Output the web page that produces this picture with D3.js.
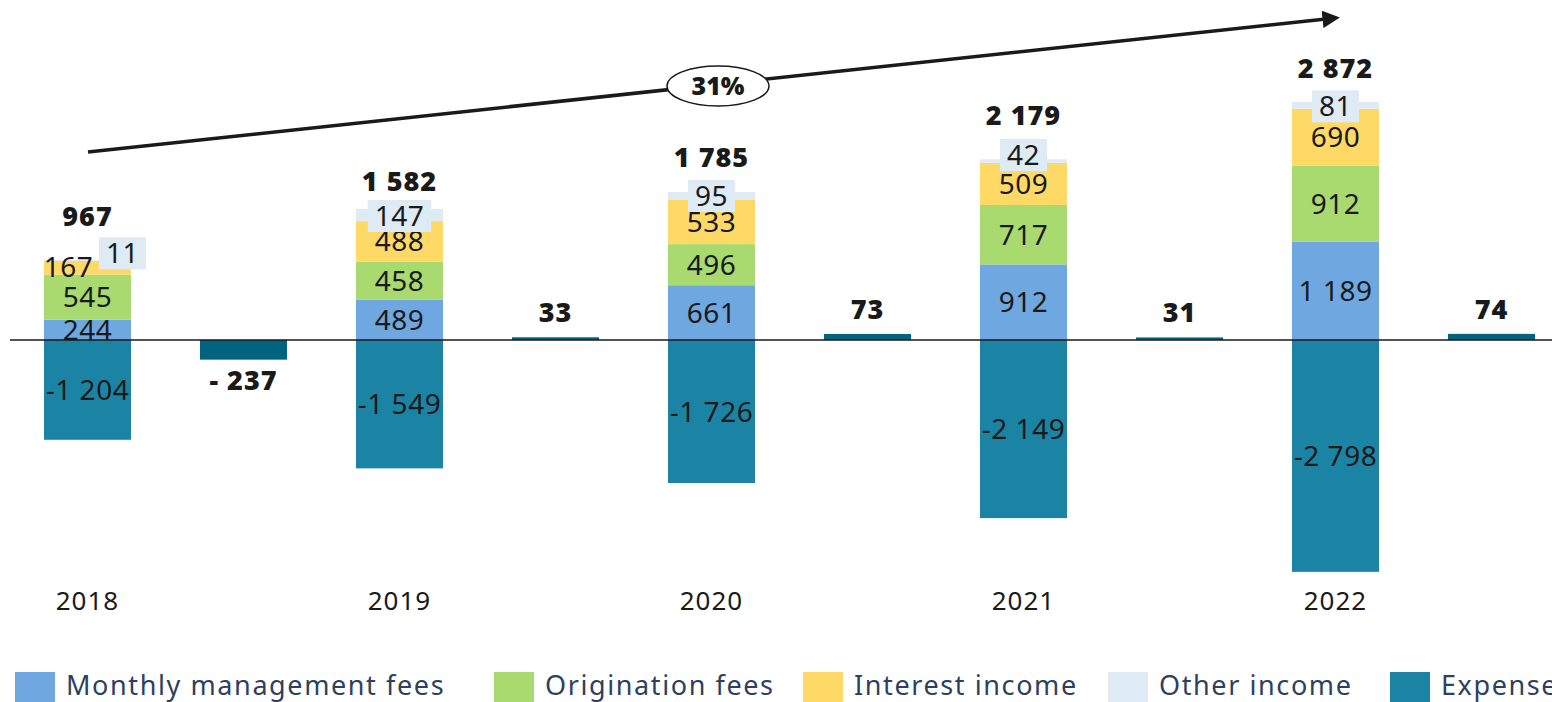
<!DOCTYPE html>
<html>
<head>
<meta charset="utf-8">
<script src="https://cdn.jsdelivr.net/npm/d3@7"></script>
<style>
  body { margin: 0; background: #fff; }
  svg { display: block; }
</style>
</head>
<body>
<div id="chart"></div>
<script>
var w = 1552;
var h = 702;

var years = ["2018", "2019", "2020", "2021", "2022"];
var monthlyFees = [244, 489, 661, 912, 1189];
var originationFees = [545, 458, 496, 717, 912];
var interestIncome = [167, 488, 533, 509, 690];
var otherIncome = [11, 147, 95, 42, 81];
var expenses = [-1204, -1549, -1726, -2149, -2798];
var totals = [967, 1582, 1785, 2179, 2872];
var netResult = [-237, 33, 73, 31, 74];
var growthLabel = "31%";

var seriesNames = ["Monthly management fees", "Origination fees", "Interest income", "Other income", "Expenses"];
var seriesColors = ["#6fa8e0", "#a8da70", "#ffd966", "#deeaf4", "#1b84a4"];
var netColor = "#006480";

// slots: year bar, then net bar, alternating
var slots = [];
years.forEach(function(y, i) { slots.push("y" + i); slots.push("n" + i); });

var xScale = d3.scaleBand()
  .domain(slots)
  .range([9.5, 1569.5])
  .paddingInner(0.442)
  .paddingOuter(0.221);

var yScale = d3.scaleLinear()
  .domain([0, 2872])
  .range([340, 102]);

var loc = d3.formatLocale({decimal: ".", thousands: " ", grouping: [3], currency: ["", ""]});
var fmt = function(v) { return loc.format(",")(v).replace("\u2212", "-"); };

var svg = d3.select("#chart").append("svg")
  .attr("width", w)
  .attr("height", h);

var font = "'Noto Sans', sans-serif";

// stacked income segments
var incomeSeries = [monthlyFees, originationFees, interestIncome, otherIncome];
var segs = [];
years.forEach(function(y, i) {
  var base = 0;
  incomeSeries.forEach(function(s, k) {
    segs.push({i: i, k: k, y0: base, y1: base + s[i], v: s[i]});
    base += s[i];
  });
  segs.push({i: i, k: 4, y0: expenses[i], y1: 0, v: expenses[i]});
});

svg.selectAll("rect.seg")
  .data(segs)
  .enter()
  .append("rect")
  .attr("class", "seg")
  .attr("x", function(d) { return xScale("y" + d.i); })
  .attr("y", function(d) { return yScale(d.y1); })
  .attr("width", xScale.bandwidth())
  .attr("height", function(d) { return yScale(d.y0) - yScale(d.y1); })
  .attr("fill", function(d) { return seriesColors[d.k]; });

// net result bars
svg.selectAll("rect.net")
  .data(netResult)
  .enter()
  .append("rect")
  .attr("class", "net")
  .attr("x", function(d, i) { return xScale("n" + i); })
  .attr("y", function(d) { return yScale(Math.max(d, 0)); })
  .attr("width", xScale.bandwidth())
  .attr("height", function(d) { return Math.abs(yScale(d) - yScale(0)); })
  .attr("fill", netColor);

// zero line
svg.append("line")
  .attr("x1", 10).attr("x2", w)
  .attr("y1", yScale(0)).attr("y2", yScale(0))
  .attr("stroke", "#1a1a1a")
  .attr("stroke-width", 1.6);

// segment labels (2018 small ones are nudged aside, other income sits at bar top)
var nudge = {"0-2": [-19, -1], "0-3": [35, -7], "1-3": [0, 1], "2-3": [0, 0], "3-3": [0, -6], "4-3": [0, 1]};
var labels = svg.selectAll("g.lab")
  .data(segs)
  .enter()
  .append("g")
  .attr("class", "lab")
  .attr("transform", function(d) {
    var n = nudge[d.i + "-" + d.k] || [0, 0];
    var cx = xScale("y" + d.i) + xScale.bandwidth() / 2 + n[0];
    var cy = (yScale(d.y0) + yScale(d.y1)) / 2 + n[1];
    return "translate(" + cx + "," + cy + ")";
  });

labels.append("text")
  .text(function(d) { return fmt(d.v); })
  .attr("text-anchor", "middle")
  .attr("dy", "0.36em")
  .attr("font-family", font)
  .attr("font-size", "28px")
  .attr("letter-spacing", "0.5px")
  .attr("fill", "#1a1a1a");

labels.filter(function(d) { return d.k === 3; })
  .insert("rect", "text")
  .attr("x", function() {
    var bb = this.parentNode.querySelector("text").getBBox();
    return -bb.width / 2 - 7;
  })
  .attr("y", -16)
  .attr("width", function() {
    return this.parentNode.querySelector("text").getBBox().width + 14;
  })
  .attr("height", 32)
  .attr("fill", seriesColors[3]);

// totals
var totalGap = [44, 28, 35, 44, 34];
svg.selectAll("text.total")
  .data(totals)
  .enter()
  .append("text")
  .attr("class", "total")
  .text(function(d) { return fmt(d); })
  .attr("text-anchor", "middle")
  .attr("x", function(d, i) { return xScale("y" + i) + xScale.bandwidth() / 2; })
  .attr("y", function(d, i) { return yScale(d) - totalGap[i]; })
  .attr("dy", "0.36em")
  .attr("font-family", font)
  .attr("font-weight", "900")
  .attr("font-size", "27px")
  .attr("letter-spacing", "1px")
  .attr("fill", "#1a1a1a");

// net labels
svg.selectAll("text.netlab")
  .data(netResult)
  .enter()
  .append("text")
  .attr("class", "netlab")
  .text(function(d) { return d < 0 ? "- " + fmt(-d) : fmt(d); })
  .attr("text-anchor", "middle")
  .attr("x", function(d, i) { return xScale("n" + i) + xScale.bandwidth() / 2; })
  .attr("y", function(d) { return d < 0 ? yScale(d) + 21 : yScale(d) - 25; })
  .attr("dy", "0.36em")
  .attr("font-family", font)
  .attr("font-weight", "900")
  .attr("font-size", "27px")
  .attr("letter-spacing", "1px")
  .attr("fill", "#1a1a1a");

// year labels
svg.selectAll("text.year")
  .data(years)
  .enter()
  .append("text")
  .attr("class", "year")
  .text(function(d) { return d; })
  .attr("text-anchor", "middle")
  .attr("x", function(d, i) { return xScale("y" + i) + xScale.bandwidth() / 2; })
  .attr("y", 610)
  .attr("font-family", font)
  .attr("font-size", "26px")
  .attr("letter-spacing", "1px")
  .attr("fill", "#1a1a1a");

// growth arrow
svg.append("defs").append("marker")
  .attr("id", "arrow")
  .attr("viewBox", "0 0 10 10")
  .attr("refX", 2).attr("refY", 5)
  .attr("markerWidth", 5).attr("markerHeight", 5)
  .attr("orient", "auto")
  .append("path")
  .attr("d", "M0,0 L10,5 L0,10 z")
  .attr("fill", "#1a1a1a");

svg.append("line")
  .attr("x1", 88).attr("y1", 152)
  .attr("x2", 1326).attr("y2", 19)
  .attr("stroke", "#1a1a1a")
  .attr("stroke-width", 3.5)
  .attr("marker-end", "url(#arrow)");

svg.append("ellipse")
  .attr("cx", 718).attr("cy", 86)
  .attr("rx", 51).attr("ry", 20)
  .attr("fill", "#fff")
  .attr("stroke", "#1a1a1a")
  .attr("stroke-width", 1.5);

svg.append("text")
  .text(growthLabel)
  .attr("x", 718).attr("y", 86)
  .attr("dy", "0.36em")
  .attr("text-anchor", "middle")
  .attr("font-family", font)
  .attr("font-weight", "900")
  .attr("font-size", "25px")
  .attr("fill", "#1a1a1a");

// legend
var legendX = [15, 494, 803, 1108, 1390];
var leg = svg.selectAll("g.legend")
  .data(seriesNames)
  .enter()
  .append("g")
  .attr("class", "legend")
  .attr("transform", function(d, i) { return "translate(" + legendX[i] + ",672)"; });

leg.append("rect")
  .attr("width", 40)
  .attr("height", 30)
  .attr("fill", function(d, i) { return seriesColors[i]; });

leg.append("text")
  .text(function(d) { return d; })
  .attr("x", 51)
  .attr("y", 23)
  .attr("font-family", font)
  .attr("font-size", "27px")
  .attr("letter-spacing", "1.6px")
  .attr("fill", "#2e3f60");
</script>
</body>
</html>
